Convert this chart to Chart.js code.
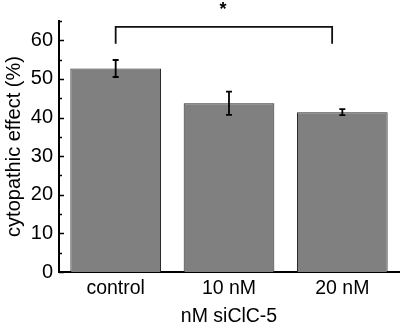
<!DOCTYPE html>
<html>
<head>
<meta charset="utf-8">
<script src="https://cdn.jsdelivr.net/npm/chart.js@4.4.1/dist/chart.umd.min.js"></script>
<style>
  html, body { margin: 0; padding: 0; background: #fff; }
  #wrap { width: 403px; height: 328px; }
</style>
</head>
<body>
<div id="wrap"><canvas id="chart" width="403" height="328"></canvas></div>
<script>
const categories = ['control', '10 nM', '20 nM'];
const effectValues = [52.7, 43.7, 41.4];
const effectErrors = [2.2, 3.0, 0.8];
const yTickLabels = [0, 10, 20, 30, 40, 50, 60];
// significance bracket: from control to 20 nM
const bracket = { from: 0, to: 1.91, top: 63.5, foot: 59.1, label: '*' };

const FONT = '"Liberation Sans", Arial, sans-serif';

// inward major/minor ticks on the y axis
const innerTicks = {
  id: 'innerTicks',
  afterDraw(chart) {
    const y = chart.scales.y;
    const ctx = chart.ctx;
    const x0 = chart.chartArea.left;
    ctx.save();
    ctx.strokeStyle = '#000';
    ctx.lineWidth = 1.5;
    for (let v = 0; v <= 65; v += 5) {
      const py = Math.round(y.getPixelForValue(v)) + 0.5;
      const len = yTickLabels.includes(v) ? 5 : 3;
      ctx.beginPath();
      ctx.moveTo(x0, py);
      ctx.lineTo(x0 + len, py);
      ctx.stroke();
    }
    ctx.restore();
  }
};

const errorBars = {
  id: 'errorBars',
  afterDatasetsDraw(chart) {
    const ctx = chart.ctx;
    const y = chart.scales.y;
    const meta = chart.getDatasetMeta(0);
    ctx.save();
    ctx.strokeStyle = '#000';
    ctx.lineWidth = 1.8;
    meta.data.forEach((bar, i) => {
      const hi = y.getPixelForValue(effectValues[i] + effectErrors[i]);
      const lo = y.getPixelForValue(effectValues[i] - effectErrors[i]);
      const cx = bar.x;
      ctx.beginPath();
      ctx.moveTo(cx, hi); ctx.lineTo(cx, lo);
      ctx.moveTo(cx - 3, hi); ctx.lineTo(cx + 3, hi);
      ctx.moveTo(cx - 3, lo); ctx.lineTo(cx + 3, lo);
      ctx.stroke();
    });
    ctx.restore();
  }
};

const sigBracket = {
  id: 'sigBracket',
  afterDraw(chart) {
    const ctx = chart.ctx;
    const x = chart.scales.x, y = chart.scales.y;
    const x1 = x.getPixelForValue(bracket.from);
    const x2 = x.getPixelForValue(bracket.to);
    const yt = y.getPixelForValue(bracket.top);
    const yf = y.getPixelForValue(bracket.foot);
    ctx.save();
    ctx.strokeStyle = '#111';
    ctx.lineWidth = 1.8;
    ctx.beginPath();
    ctx.moveTo(x1, yf); ctx.lineTo(x1, yt); ctx.lineTo(x2, yt); ctx.lineTo(x2, yf);
    ctx.stroke();
    ctx.fillStyle = '#000';
    ctx.font = 'bold 18px ' + FONT;
    ctx.textAlign = 'center';
    ctx.textBaseline = 'middle';
    ctx.fillText(bracket.label, (x1 + x2) / 2 - 1, yt - 17);
    ctx.restore();
  }
};

new Chart(document.getElementById('chart'), {
  type: 'bar',
  data: {
    labels: categories,
    datasets: [{
      data: effectValues,
      backgroundColor: '#808080',
      borderColor: '#2a2a2a',
      borderWidth: 1,
      categoryPercentage: 1,
      barPercentage: 0.8
    }]
  },
  options: {
    responsive: false,
    animation: false,
    layout: { padding: { top: 21, right: 4, left: 0, bottom: 0 } },
    plugins: { legend: { display: false }, tooltip: { enabled: false } },
    scales: {
      x: {
        grid: { display: false, drawTicks: false },
        border: { display: true, color: '#000', width: 2 },
        ticks: { color: '#000', font: { family: FONT, size: 19.5 }, padding: 5 },
        title: {
          display: true, text: 'nM siClC-5', color: '#000',
          font: { family: FONT, size: 19.5 }, padding: { top: 5, bottom: 0 }
        },
        afterFit(scale) { scale.height = 56; }
      },
      y: {
        min: 0, max: 65,
        grid: { display: false, drawTicks: false },
        border: { display: true, color: '#000', width: 2 },
        afterBuildTicks(scale) {
          scale.ticks = yTickLabels.map(v => ({ value: v }));
        },
        ticks: { color: '#000', font: { family: FONT, size: 20 }, padding: 6 },
        title: {
          display: true, text: 'cytopathic effect (%)', color: '#000',
          font: { family: FONT, size: 20 }, padding: { top: 2, bottom: 0 }
        },
        afterFit(scale) { scale.width = 59; }
      }
    }
  },
  plugins: [innerTicks, errorBars, sigBracket]
});
</script>
</body>
</html>
